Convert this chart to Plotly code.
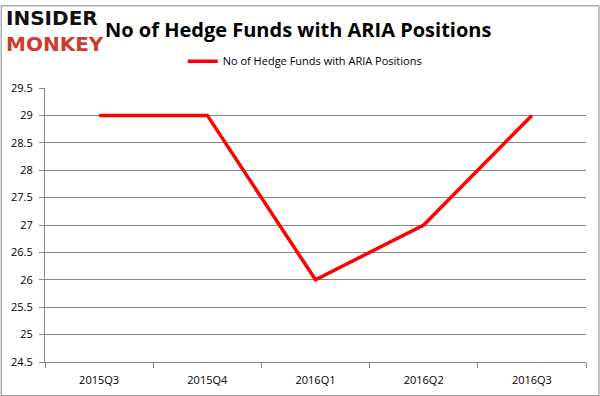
import plotly.graph_objects as go

quarters = ["2015Q3", "2015Q4", "2016Q1", "2016Q2", "2016Q3"]
hedge_funds = [29, 29, 26, 27, 29]
series_name = "No of Hedge Funds with ARIA Positions"
y_ticks = [24.5, 25, 25.5, 26, 26.5, 27, 27.5, 28, 28.5, 29, 29.5]

fig = go.Figure()
fig.add_trace(go.Scatter(
    x=quarters, y=hedge_funds, mode="lines", name=series_name,
    line=dict(color="#ff0000", width=3.5),
))

fig.update_layout(
    width=600, height=396,
    margin=dict(l=45, r=14, t=88, b=34),
    paper_bgcolor="white", plot_bgcolor="white",
    showlegend=True,
    legend=dict(orientation="h", x=0.48, xanchor="center", y=1.045, yanchor="bottom",
                font=dict(family="Open Sans, Arial", size=11, color="#000"),
                itemwidth=30, bgcolor="rgba(0,0,0,0)"),
    font=dict(family="Open Sans, Arial", size=11, color="#000"),
    title=dict(text="<b>No of Hedge Funds with ARIA Positions</b>",
               x=0.175, xanchor="left", y=0.925, yanchor="middle",
               font=dict(family="Open Sans, Arial", size=20, color="#000")),
)

fig.update_xaxes(
    type="category", showline=True, linecolor="#888", linewidth=1,
    ticks="outside", ticklen=5, tickcolor="#888", automargin=False,
    tickson="boundaries", showgrid=False, ticklabelstandoff=8,
    tickfont=dict(family="Open Sans, Arial", size=11, color="#000"),
    range=[-0.5, 4.5],
)
fig.update_yaxes(
    range=[24.5, 29.5], tickvals=y_ticks, ticktext=[f"{v:g}" for v in y_ticks],
    showgrid=True, gridcolor="#888", gridwidth=1, automargin=False,
    showline=True, linecolor="#888", linewidth=1,
    ticks="outside", ticklen=5, tickcolor="#888", ticklabelstandoff=4,
    tickfont=dict(family="Open Sans, Arial", size=11, color="#000"),
    zeroline=False,
)

# logo as text
fig.add_annotation(text="<b>INSIDER</b>", xref="paper", yref="paper",
                   x=-0.075, y=1.255, xanchor="left", yanchor="middle", showarrow=False,
                   font=dict(family="DejaVu Sans", size=20, color="#111"))
fig.add_annotation(text="<b>MONKEY</b>", xref="paper", yref="paper",
                   x=-0.075, y=1.16, xanchor="left", yanchor="middle", showarrow=False,
                   font=dict(family="DejaVu Sans", size=20, color="#d0392b"))

# frame
fig.add_shape(type="rect", xref="paper", yref="paper", x0=-0.081, x1=1.024, y0=-0.123, y1=1.30,
              line=dict(color="#888", width=1))

fig.write_html("out.html")
